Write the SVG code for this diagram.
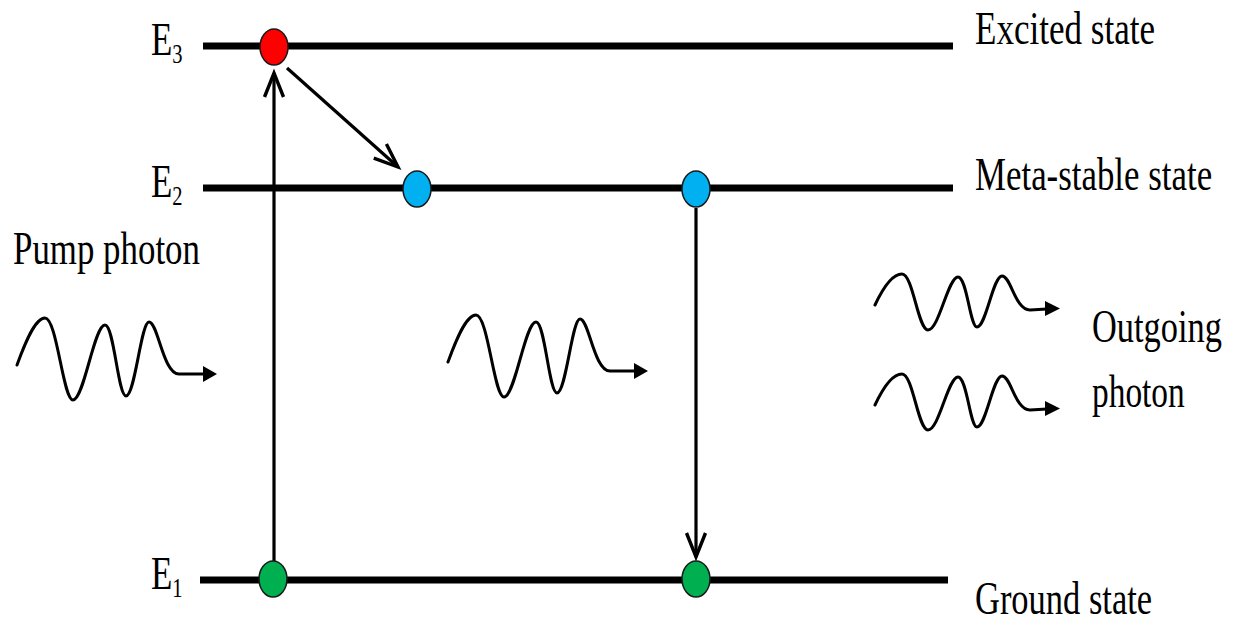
<svg xmlns="http://www.w3.org/2000/svg" xmlns:xlink="http://www.w3.org/1999/xlink" width="1233" height="622" viewBox="0 0 1233 622">
<style>
.lvl{stroke:#000;stroke-width:7;fill:none}
.arr{stroke:#000;stroke-width:3.2;fill:none}
.wave{stroke:#000;stroke-width:3;fill:none;stroke-linecap:round}
.dot{stroke:#1a1a1a;stroke-width:1.5}
text{font-family:"Liberation Serif","Times New Roman",serif;font-size:46px;fill:#000}
.sub{font-size:27px}
</style>
<defs>
<marker id="open" markerUnits="userSpaceOnUse" viewBox="-30 -15 34 30" markerWidth="34" markerHeight="30" refX="0" refY="0" orient="auto" overflow="visible">
<path d="M-24,-9.5 L0,0 L-24,9.5" stroke="#000" stroke-width="3.4" fill="none"/>
</marker>
<g id="bigwave">
<path class="wave" d="M0,0 C8,-22 18,-47 28,-47 C40,-47 46,35 56,35 C67,35 77,-40 88,-40 C97,-40 101,31 109,31 C118,31 124,-43 132,-43 C141,-43 146,9 162,9 L188,9"/>
<polygon points="186,1 200,9 186,17" fill="#000"/>
</g>
<g id="smallwave">
<path class="wave" d="M0,0 C7,-15 17,-31 27,-31 C38,-31 43,25 53,25 C64,25 73,-28 83,-28 C92,-28 95,22 102,22 C111,22 118,-29 127,-29 C136,-29 140,5 155,5 L172,4"/>
<polygon points="170,-4 185,3.5 170,11" fill="#000"/>
</g>
</defs>
<g id="levels">
<line class="lvl" x1="203" y1="46" x2="953" y2="46"/>
<line class="lvl" x1="203" y1="188" x2="953" y2="188"/>
<line class="lvl" x1="200" y1="580" x2="948" y2="580"/>
</g>
<g id="connectors">
<line class="arr" x1="274" y1="562" x2="274" y2="73" marker-end="url(#open)"/>
<line class="arr" x1="287" y1="68" x2="398" y2="167" marker-end="url(#open)"/>
<line class="arr" x1="696" y1="208" x2="696" y2="557" marker-end="url(#open)"/>
</g>
<g id="e3-red"><ellipse class="dot" cx="274" cy="47" rx="14" ry="18" fill="#FF0000"/></g>
<g id="e2-blue-1"><ellipse class="dot" cx="417" cy="189" rx="14" ry="18" fill="#00B0F0"/></g>
<g id="e2-blue-2"><ellipse class="dot" cx="696" cy="189" rx="14" ry="18" fill="#00B0F0"/></g>
<g id="e1-green-1"><ellipse class="dot" cx="273" cy="579" rx="14" ry="18" fill="#00B050"/></g>
<g id="e1-green-2"><ellipse class="dot" cx="696" cy="579" rx="14" ry="18" fill="#00B050"/></g>
<g id="pump-wave"><use xlink:href="#bigwave" href="#bigwave" transform="translate(17,365)"/></g>
<g id="mid-wave"><use xlink:href="#bigwave" href="#bigwave" transform="translate(448,362)"/></g>
<g id="out-wave-1"><use xlink:href="#smallwave" href="#smallwave" transform="translate(875,305)"/></g>
<g id="out-wave-2"><use xlink:href="#smallwave" href="#smallwave" transform="translate(875,405)"/></g>
<g id="labels">
<text transform="translate(151,55) scale(0.76,1)">E<tspan class="sub" dy="8">3</tspan></text>
<text transform="translate(151,197) scale(0.76,1)">E<tspan class="sub" dy="8">2</tspan></text>
<text transform="translate(151,589) scale(0.76,1)">E<tspan class="sub" dy="8">1</tspan></text>
<text transform="translate(975,44) scale(0.76,1)" textLength="237" lengthAdjust="spacingAndGlyphs">Excited state</text>
<text transform="translate(975,190) scale(0.76,1)" textLength="312" lengthAdjust="spacingAndGlyphs">Meta-stable state</text>
<text transform="translate(975,614) scale(0.76,1)" textLength="233" lengthAdjust="spacingAndGlyphs">Ground state</text>
<text transform="translate(13,264) scale(0.76,1)" textLength="246" lengthAdjust="spacingAndGlyphs">Pump photon</text>
<text transform="translate(1092,342) scale(0.76,1)" textLength="171" lengthAdjust="spacingAndGlyphs">Outgoing</text>
<text transform="translate(1092,407) scale(0.76,1)" textLength="122" lengthAdjust="spacingAndGlyphs">photon</text>
</g>
</svg>
